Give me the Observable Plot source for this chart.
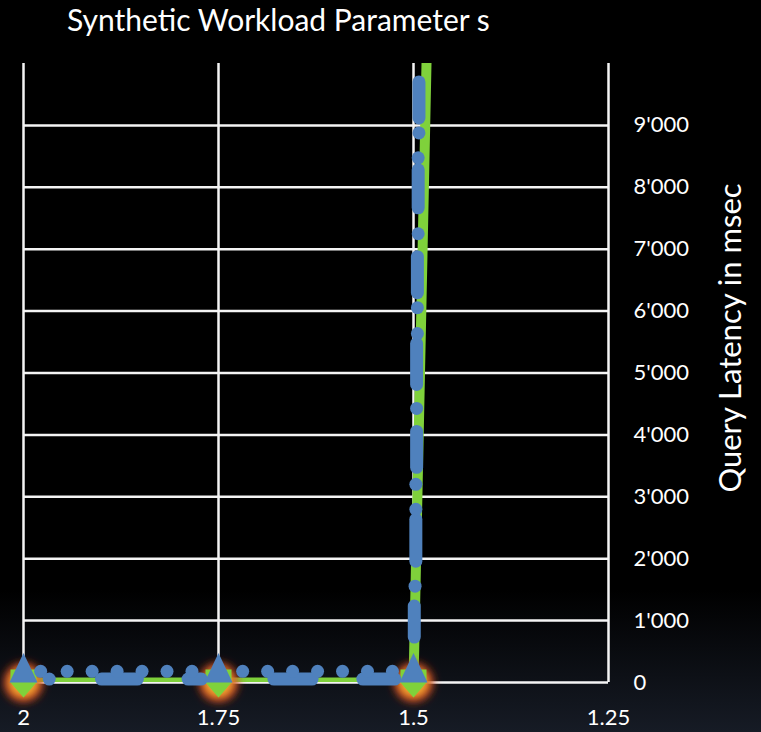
<!DOCTYPE html>
<html><head><meta charset="utf-8">
<script src="https://cdn.jsdelivr.net/npm/d3@7"></script>
<script src="https://cdn.jsdelivr.net/npm/@observablehq/plot@0.6"></script>
<style>
html,body{margin:0;padding:0;}
body{width:761px;height:732px;overflow:hidden;background:linear-gradient(to bottom,#000 0px,#000 590px,#161b25 732px);font-family:Lato,sans-serif;}
#title{height:45px;box-sizing:border-box;padding:1px 0 0 67px;color:#fff;font-size:30px;line-height:36px;white-space:nowrap;}
#chart svg{display:block;}
</style></head><body>
<div id="title">Synthetic Workload Parameter s</div>
<div id="chart"></div>
<script>
// ---- data ----
const xTicks = [2, 1.75, 1.5, 1.25];
const yTicks = [0, 1000, 2000, 3000, 4000, 5000, 6000, 7000, 8000, 9000];
const yLabel = "Query Latency in msec";

// green (model) series
const greenS  = [2, 1.75, 1.5, 1.45];
const greenMs = [0, 0, 0, 30000];

// marker points (both series)
const markS  = [2, 1.75, 1.5];
const markMs = [0, 0, 0];

// blue measured series: isolated dots
const blueDotS  = [1.978, 1.944, 1.912, 1.880, 1.848, 1.816, 1.784, 1.719, 1.687, 1.655, 1.623, 1.591, 1.559, 1.527,
                   1.967,
                   1.493, 1.494, 1.494, 1.495, 1.495, 1.496, 1.497, 1.497, 1.498];
const blueDotMs = [180, 180, 180, 180, 180, 180, 180, 180, 180, 180, 180, 180, 180, 180,
                   55,
                   8879, 8476, 7250, 6056, 5637, 4427, 3202, 2798, 1556];

// blue measured series: dense runs (start s, start ms, end s, end ms)
const runS1  = [1.900, 1.789, 1.679, 1.565, 1.493, 1.494, 1.495, 1.496, 1.496, 1.497, 1.499];
const runMs1 = [55, 55, 55, 55, 9702, 8282, 6879, 5476, 4056, 2637, 1234];
const runS2  = [1.854, 1.772, 1.630, 1.524, 1.493, 1.494, 1.495, 1.496, 1.496, 1.497, 1.499];
const runMs2 = [55, 55, 55, 55, 9121, 7669, 6298, 4815, 3476, 1960, 734];

// ---- tables ----
const green = greenS.map((s, i) => ({s, ms: greenMs[i]}));
const marks = markS.map((s, i) => ({s, ms: markMs[i]}));
const blueDots = blueDotS.map((s, i) => ({s, ms: blueDotMs[i]}));
const blueRuns = runS1.map((s, i) => ({s1: s, m1: runMs1[i], s2: runS2[i], m2: runMs2[i]}));

const fmt = d3.formatLocale({thousands: "'", grouping: [3], decimal: ".", currency: ["", ""]}).format(",");

const greenMarker = {draw(ctx, size) {
  const r = Math.sqrt(size / Math.PI);
  ctx.moveTo(-r, -r); ctx.lineTo(r, -r); ctx.lineTo(r, 0); ctx.lineTo(0, 1.15 * r); ctx.lineTo(-r, 0); ctx.closePath();
}};
const blueTriangle = {draw(ctx, size) {
  const r = Math.sqrt(size / Math.PI);
  ctx.moveTo(0, -2.1 * r); ctx.lineTo(r, 0); ctx.lineTo(-r, 0); ctx.closePath();
}};

const BLUE = "#4f81bd", GREEN = "#7fd13b";

const plot = Plot.plot({
  width: 761, height: 687,
  marginLeft: 23, marginRight: 153, marginTop: 18, marginBottom: 50,
  style: {background: "transparent", color: "#fff", fontFamily: "Lato, sans-serif", fontSize: "22px", overflow: "visible"},
  x: {domain: [2, 1.25], ticks: xTicks, tickFormat: d => String(d), tickSize: 0, tickPadding: 27, label: null},
  y: {domain: [0, 10000], axis: "right", ticks: yTicks, tickFormat: fmt, tickSize: 0, tickPadding: 25, label: null},
  marks: [
    Plot.ruleY(yTicks, {stroke: "#f4f4f4", strokeWidth: 2.5}),
    Plot.ruleX(xTicks, {stroke: "#f4f4f4", strokeWidth: 2.5}),
    Plot.line(green, {x: "s", y: "ms", stroke: GREEN, strokeWidth: 10, clip: true}),
    Plot.dot(marks, {x: "s", y: "ms", r: 19, fill: "#c8321e", ariaDescription: "glow2"}),
    Plot.dot(marks, {x: "s", y: "ms", r: 15, fill: "#f2b232", ariaDescription: "glow"}),
    Plot.dot(marks, {x: "s", y: "ms", r: 13, symbol: greenMarker, fill: GREEN}),
    Plot.link(blueRuns, {x1: "s1", y1: "m1", x2: "s2", y2: "m2", stroke: BLUE, strokeWidth: 13, strokeLinecap: "round"}),
    Plot.dot(blueDots, {x: "s", y: "ms", r: 6.5, fill: BLUE}),
    Plot.dot(marks, {x: "s", y: "ms", r: 14, symbol: blueTriangle, fill: BLUE})
  ]
});

const svg = d3.select(plot);
const defs = svg.insert("defs", ":first-child");
const f = defs.append("filter").attr("id", "glowf").attr("x", "-150%").attr("y", "-150%").attr("width", "400%").attr("height", "400%");
f.append("feGaussianBlur").attr("stdDeviation", 5);
svg.selectAll('g[aria-description="glow"], g[aria-description="glow2"]').attr("filter", "url(#glowf)");

svg.append("text")
  .attr("transform", "translate(741,293) rotate(-90)")
  .attr("text-anchor", "middle")
  .attr("fill", "#fff")
  .style("font-size", "31px")
  .text(yLabel);

document.getElementById("chart").appendChild(plot);
</script>
</body></html>
